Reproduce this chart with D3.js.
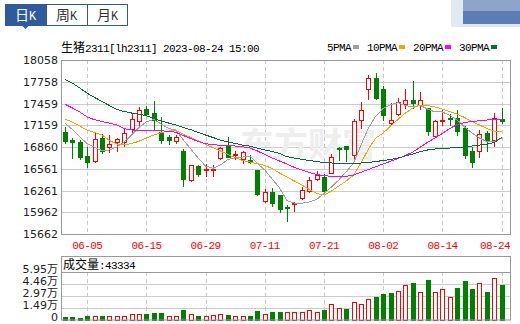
<!DOCTYPE html>
<html>
<head>
<meta charset="utf-8">
<script src="https://cdn.jsdelivr.net/npm/d3@7"></script>
<style>
  body { margin: 0; background: #fff; }
  svg { display: block; }
</style>
</head>
<body>
<div id="chart"></div>
<script>
// daily K of 生猪2311, 60 trading days up to 2023-08-24

const dates = ["05-31","06-01","06-02","06-05","06-06","06-07","06-08","06-09","06-12","06-13",
  "06-14","06-15","06-16","06-19","06-20","06-21","06-26","06-27","06-28","06-29",
  "06-30","07-03","07-04","07-05","07-06","07-07","07-10","07-11","07-12","07-13",
  "07-14","07-17","07-18","07-19","07-20","07-21","07-24","07-25","07-26","07-27",
  "07-28","07-31","08-01","08-02","08-03","08-04","08-07","08-08","08-09","08-10",
  "08-11","08-14","08-15","08-16","08-17","08-18","08-21","08-22","08-23","08-24"];

const open = [17067,16956,16933,16736,16663,16979,16855,16924,16933,17103,
  17223,17383,17333,17071,16998,16938,16809,16401,16598,16543,
  16548,16704,16888,16756,16690,16681,16543,16121,16240,16199,
  16030,16080,16153,16254,16415,16451,16507,16851,16874,16750,
  17232,17654,17805,17659,17186,17314,17448,17507,17438,17392,
  17011,17218,17255,17264,17117,16805,16805,17057,16956,17250];
const high = [17140,16984,16956,16865,17057,17039,17025,16989,17108,17310,
  17411,17425,17498,17268,17025,17030,16828,16615,16612,16626,
  16612,16865,16993,16810,16810,16750,16543,16282,16300,16199,
  16061,16107,16305,16451,16530,16488,16759,16865,16874,17241,
  17484,17851,17874,17700,17470,17530,17654,17769,17617,17401,
  17232,17379,17314,17369,17149,16855,17094,17080,17324,17392];
const low = [16910,16713,16690,16589,16655,16773,16796,16810,16874,17039,
  17149,17310,17094,16920,16897,16910,16323,16395,16465,16465,
  16465,16695,16718,16695,16635,16645,16204,16107,16048,15970,
  15846,15983,16139,16240,16406,16222,16498,16681,16667,16695,
  17117,17521,17516,17232,17163,17301,17392,17392,17379,17025,
  16993,17158,17163,17030,16704,16589,16727,16810,16878,17186];
const close = [16938,16924,16727,16649,16966,16810,16901,16970,17048,17241,
  17369,17319,17232,16956,16961,16998,16424,16608,16488,16552,
  16557,16842,16727,16765,16787,16658,16213,16236,16093,16000,
  16015,16090,16268,16406,16470,16254,16718,16837,16828,17218,
  17369,17805,17530,17301,17232,17484,17507,17470,17507,17085,
  17218,17232,17241,17085,16750,16658,17034,16947,17264,17223];
const volume = [2900,3300,2500,5000,5000,5000,3800,3800,5000,6300,
  6300,6300,7900,7900,3800,3800,11700,6700,4200,4200,
  5800,6300,5400,4200,5000,4200,10400,7500,9200,9200,
  10000,8800,10000,12500,10000,11700,18800,15000,12900,21300,
  20000,25100,28000,31700,33400,35100,43800,45500,34200,49300,
  34200,38000,28000,39300,48000,38000,45500,34200,52600,43334];

const ma5 = [17186,17101,16998,16908,16856,16809,16819,16860,16929,17025,
  17129,17208,17239,17177,17115,17094,16956,16832,16708,16598,
  16567,16612,16688,16708,16722,16736,16633,16543,16419,16295,
  16123,16085,16085,16103,16137,16220,16309,16406,16520,16640,
  16887,17122,17287,17390,17445,17470,17431,17411,17434,17383,
  17342,17342,17294,17232,17135,17053,16984,16933,16933,16984];
const ma10 = [17241,17204,17149,17090,17060,17025,16950,16901,16887,16908,
  16939,16984,17025,17060,17080,17090,17035,16991,16945,16897,
  16850,16805,16757,16713,16674,16653,16630,16605,16564,16502,
  16447,16392,16337,16275,16220,16199,16254,16323,16392,16474,
  16640,16832,16984,17053,17149,17239,17328,17397,17438,17431,
  17411,17383,17349,17314,17266,17211,17163,17115,17080,17073];
const ma20 = [17448,17397,17342,17273,17235,17211,17190,17163,17112,17094,
  17090,17090,17090,17083,17076,17062,17018,16977,16936,16904,
  16894,16881,16881,16874,16863,16846,16805,16757,16708,16667,
  16626,16578,16543,16509,16481,16468,16454,16451,16456,16474,
  16512,16550,16589,16626,16664,16702,16743,16791,16856,16925,
  16984,17046,17115,17170,17197,17211,17221,17232,17241,17241];
const ma30 = [17792,17741,17672,17600,17542,17487,17431,17376,17349,17328,
  17312,17291,17252,17218,17190,17163,17128,17098,17060,17025,
  16991,16956,16929,16908,16887,16871,16846,16819,16798,16770,
  16726,16708,16691,16674,16660,16647,16640,16633,16626,16630,
  16640,16647,16660,16674,16688,16708,16736,16764,16795,16819,
  16832,16842,16846,16853,16860,16874,16887,16901,16922,16991];

const priceTicks = [15662,15962,16261,16561,16860,17159,17459,17758,18058];
const dateTicks = ["06-05","06-15","06-29","07-11","07-21","08-02","08-14","08-24"];
const volTicks = [0,14875,29750,44625,59500];
const volTickLabels = ["0","1.49万","2.97万","4.46万","5.95万"];
const maNames = ["5PMA","10PMA","20PMA","30PMA"];
const tabs = ["日K","周K","月K"];
const title = ["生猪", "2311[lh2311] 2023-08-24 15:00"];

const UP = "#ff0000", DOWN = "#008000";
const maColors = ["#a0a0a0","#f5a300","#ff00ff","#00703a"];
const mono = "'Liberation Mono', monospace";
const cjk = "'Noto Sans CJK SC', sans-serif";
const sans = "'DejaVu Sans', 'Noto Sans CJK SC', sans-serif";

const W = 520, H = 324;
const P = {l: 61, r: 510, t: 60, b: 234};
const V = {t: 256, sep: 272, b: 319.5};

const svg = d3.select("#chart").append("svg")
  .attr("width", W).attr("height", H);

const x = d3.scalePoint().domain(dates).range([65, 501.6]);
const y = d3.scaleLinear().domain([15662, 18058]).range([P.b, P.t]);
const yv = d3.scaleLinear().domain([0, 59500]).range([V.b, V.sep]);
const px = v => Math.round(v) + 0.5;

// blurred badge, top right
const badge = svg.append("g");
badge.append("rect").attr("x", 451).attr("y", 0).attr("width", 12).attr("height", 27).attr("fill", "#e3e8f1");
badge.append("rect").attr("x", 463).attr("y", 0).attr("width", 57).attr("height", 11).attr("fill", "#8ea4c8");
badge.append("rect").attr("x", 463).attr("y", 11).attr("width", 57).attr("height", 13).attr("fill", "#5b7db3");
badge.append("rect").attr("x", 463).attr("y", 24).attr("width", 57).attr("height", 3).attr("fill", "#dfe5ef");

// period tabs
const tabX = d3.scaleBand().domain(tabs).range([5, 128]);
const tabG = svg.append("g");
tabG.append("rect").attr("x", 5.5).attr("y", 4.5).attr("width", 122).attr("height", 21)
  .attr("fill", "#fff").attr("stroke", "#2f5a9e");
tabG.append("rect").attr("x", 5.5).attr("y", 4.5).attr("width", tabX.bandwidth()).attr("height", 21)
  .attr("fill", "#2f5a9e");
tabG.append("path")
  .attr("d", `M${5 + tabX.bandwidth() / 2 - 4},25 l8,0 l-4,4 z`).attr("fill", "#2f5a9e");
tabs.slice(1).forEach(t => {
  tabG.append("line").attr("x1", px(tabX(t))).attr("x2", px(tabX(t)))
    .attr("y1", 4.5).attr("y2", 25.5).attr("stroke", "#2f5a9e");
});
tabs.forEach((t, i) => {
  const tx = tabG.append("text")
    .attr("x", tabX(t) + tabX.bandwidth() / 2).attr("y", 20)
    .attr("text-anchor", "middle")
    .attr("fill", i === 0 ? "#fff" : "#333");
  tx.append("tspan").style("font-family", cjk).style("font-size", "14px").text(t[0]);
  tx.append("tspan").style("font-family", mono).style("font-size", "12px").text(t.slice(1));
});

// title
const tt = svg.append("text").attr("x", 61).attr("y", 52).attr("fill", "#000");
tt.append("tspan").style("font-family", cjk).style("font-size", "12px").text(title[0]);
tt.append("tspan").style("font-family", mono).style("font-size", "11px")
  .style("letter-spacing", "-0.6px").text(title[1]);

// legend
let lx = 327;
maNames.forEach((n, i) => {
  svg.append("text").attr("x", lx).attr("y", 51)
    .style("font-family", mono).style("font-size", "11px").style("letter-spacing", "-0.6px")
    .attr("fill", "#000").text(n);
  const rx = lx + n.length * 6 + 2;
  svg.append("rect").attr("x", rx).attr("y", 45).attr("width", 6).attr("height", 4)
    .attr("fill", maColors[i]);
  lx = rx + 14;
});

// price panel grid
const grid = svg.append("g");
grid.selectAll("line.h").data(priceTicks.slice(1, -1)).join("line")
  .attr("x1", P.l).attr("x2", P.r)
  .attr("y1", d => px(y(d))).attr("y2", d => px(y(d)))
  .attr("stroke", "#cccccc");
grid.selectAll("line.v").data(dateTicks).join("line")
  .attr("x1", d => px(x(d))).attr("x2", d => px(x(d)))
  .attr("y1", P.t).attr("y2", P.b)
  .attr("stroke", "#c8c8c8").attr("stroke-dasharray", "4,3");

// watermark
svg.append("text").attr("x", 240).attr("y", 157)
  .style("font-family", cjk).style("font-size", "34px").style("font-weight", "bold")
  .attr("fill", "#eeeeee").text("东方财富");

// price axis labels
const yAxis = d3.axisLeft(y).tickValues(priceTicks).tickSize(0).tickPadding(3).tickFormat(d3.format("d"));
svg.append("g").attr("transform", `translate(${P.l},0)`).call(yAxis)
  .call(g => g.select(".domain").remove())
  .call(g => g.selectAll("text").style("font-family", sans).style("font-size", "11px").attr("fill", "#222"));

// candles
const candles = svg.append("g").selectAll("g").data(dates).join("g");
candles.append("line")
  .attr("x1", d => px(x(d))).attr("x2", d => px(x(d)))
  .attr("y1", (d, i) => Math.round(y(high[i]))).attr("y2", (d, i) => Math.round(y(low[i])) + 1)
  .attr("stroke", (d, i) => close[i] >= open[i] ? UP : DOWN);
candles.append("rect")
  .attr("x", d => px(x(d)) - 2)
  .attr("y", (d, i) => px(y(Math.max(open[i], close[i]))))
  .attr("width", 4)
  .attr("height", (d, i) => Math.max(0.1, Math.round(y(Math.min(open[i], close[i]))) - Math.round(y(Math.max(open[i], close[i])))))
  .attr("fill", (d, i) => close[i] >= open[i] ? "#fff" : DOWN)
  .attr("stroke", (d, i) => close[i] >= open[i] ? UP : DOWN);

// moving averages
[ma5, ma10, ma20, ma30].forEach((m, k) => {
  svg.append("path").datum(m)
    .attr("d", d3.line().x((d, i) => x(dates[i])).y(d => y(d)))
    .attr("fill", "none").attr("stroke", maColors[k]).attr("stroke-width", 1)
    .attr("shape-rendering", "crispEdges");
});

// price panel frame
svg.append("rect").attr("x", P.l + 0.5).attr("y", P.t + 0.5)
  .attr("width", P.r - P.l).attr("height", P.b - P.t)
  .attr("fill", "none").attr("stroke", "#999");

// date labels, last one kept inside the frame
const xl = svg.append("g");
dateTicks.forEach(d => {
  const t = xl.append("text").attr("y", 249)
    .style("font-family", mono).style("font-size", "11px").style("letter-spacing", "-0.6px")
    .attr("fill", "#ff0000").text(d);
  const w = t.node().getComputedTextLength();
  t.attr("x", Math.min(x(d) - w / 2, P.r - w));
});

// volume panel
const vg = svg.append("g");
vg.selectAll("line.h").data(volTicks.slice(1, -1)).join("line")
  .attr("x1", P.l).attr("x2", P.r)
  .attr("y1", d => px(yv(d))).attr("y2", d => px(yv(d)))
  .attr("stroke", "#cccccc");
vg.selectAll("line.v").data(dateTicks).join("line")
  .attr("x1", d => px(x(d))).attr("x2", d => px(x(d)))
  .attr("y1", V.sep).attr("y2", V.b)
  .attr("stroke", "#c8c8c8").attr("stroke-dasharray", "4,3");

// bar colour follows close against previous close
const volUp = (i) => i === 0 ? close[0] >= open[0] : close[i] >= close[i - 1];
vg.selectAll("rect.bar").data(dates).join("rect")
  .attr("x", d => px(x(d)) - 2)
  .attr("y", (d, i) => px(yv(volume[i])))
  .attr("width", 4)
  .attr("height", (d, i) => Math.max(0.1, Math.round(V.b) - Math.round(yv(volume[i]))))
  .attr("fill", (d, i) => volUp(i) ? "#fff" : DOWN)
  .attr("stroke", (d, i) => volUp(i) ? UP : DOWN);

vg.append("rect").attr("x", P.l + 0.5).attr("y", V.t + 0.5)
  .attr("width", P.r - P.l).attr("height", V.b - V.t)
  .attr("fill", "none").attr("stroke", "#999");
vg.append("line").attr("x1", P.l).attr("x2", P.r).attr("y1", V.sep + 0.5).attr("y2", V.sep + 0.5)
  .attr("stroke", "#999");

const vt = vg.append("text").attr("x", 63).attr("y", 269).attr("fill", "#000");
vt.append("tspan").style("font-family", cjk).style("font-size", "12px").text("成交量");
vt.append("tspan").style("font-family", mono).style("font-size", "11px")
  .style("letter-spacing", "-0.6px").text(":" + volume[volume.length - 1]);

// volume labels sit a little above their lines, as in the source
const vAxis = d3.axisLeft(yv).tickValues(volTicks).tickSize(0).tickPadding(3)
  .tickFormat((d, i) => volTickLabels[i]);
svg.append("g").attr("transform", `translate(${P.l},0)`).call(vAxis)
  .call(g => g.select(".domain").remove())
  .call(g => g.selectAll("text").attr("dy", "0.05em")
    .style("font-family", sans).style("font-size", "11px").attr("fill", "#222"));
</script>
</body>
</html>
